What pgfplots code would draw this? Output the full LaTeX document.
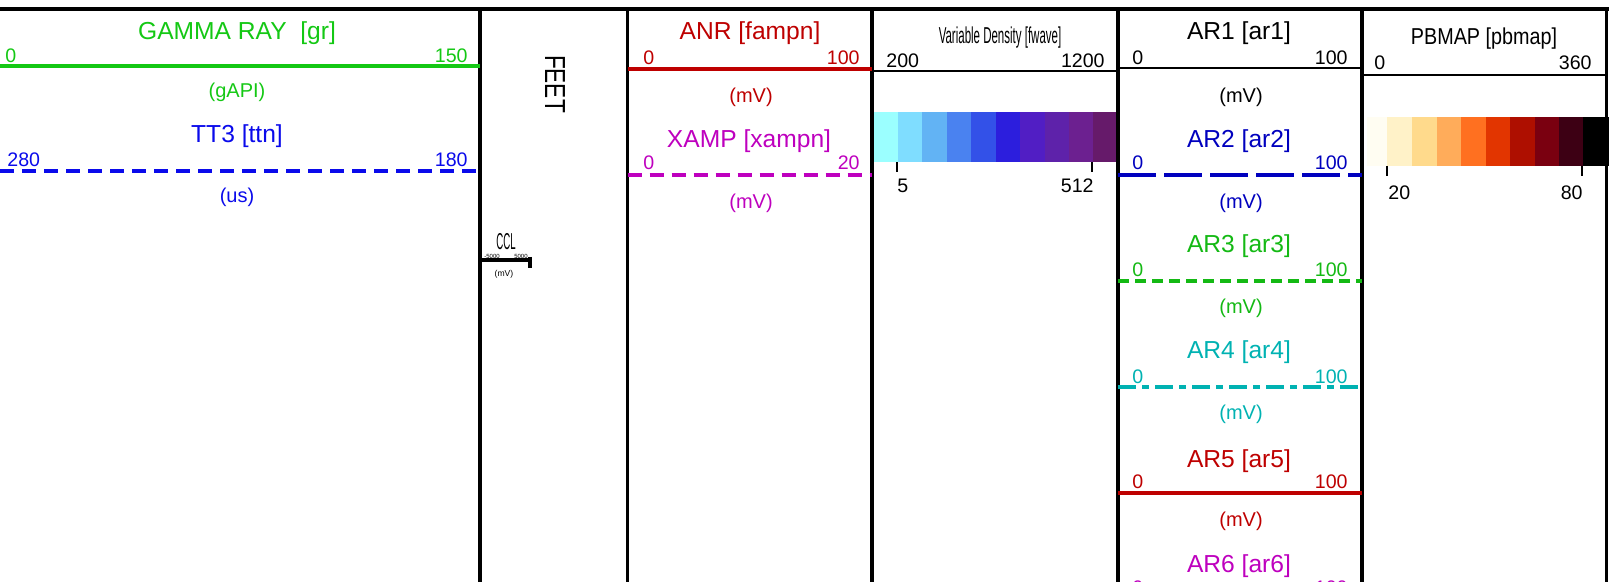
\documentclass[border=0pt]{standalone}
\usepackage{pgfplots}
\pgfplotsset{compat=1.18}
\usepackage{fontspec}
\setmainfont{Liberation Sans}
\usepackage{graphicx}
\newcommand\tf{\fontsize{12.3}{14}\selectfont}
\newcommand\nf{\fontsize{9.8}{12}\selectfont}
\newcommand\uf{\fontsize{10}{12}\selectfont}
\definecolor{cgr}{RGB}{20,200,20}
\definecolor{cbl}{RGB}{10,10,235}
\definecolor{cred}{RGB}{190,0,0}
\definecolor{cmag}{RGB}{190,0,190}
\definecolor{cdb}{RGB}{0,0,190}
\definecolor{cg3}{RGB}{20,185,20}
\definecolor{cteal}{RGB}{0,178,178}
% variable density colours
\definecolor{v1}{HTML}{9BFFFF}\definecolor{v2}{HTML}{7FDDFF}\definecolor{v3}{HTML}{62B3F4}
\definecolor{v4}{HTML}{4A82F0}\definecolor{v5}{HTML}{3351E8}\definecolor{v6}{HTML}{2C1EDD}
\definecolor{v7}{HTML}{511EC4}\definecolor{v8}{HTML}{5E22AA}\definecolor{v9}{HTML}{6C2090}
\definecolor{v10}{HTML}{661A6A}
% pbmap colours
\definecolor{p0}{HTML}{FFFDF2}\definecolor{p1}{HTML}{FFF2C8}\definecolor{p2}{HTML}{FFDA8C}
\definecolor{p3}{HTML}{FFAC5A}\definecolor{p4}{HTML}{FF7020}\definecolor{p5}{HTML}{E23500}
\definecolor{p6}{HTML}{AE0F00}\definecolor{p7}{HTML}{7A0010}\definecolor{p8}{HTML}{3D0014}
\definecolor{p9}{HTML}{000000}
\newcommand\vcell[3]{\addplot[fill=#3, draw=none, forget plot] coordinates {(#1,112) (#2,112) (#2,162) (#1,162)} -- cycle;}
\newcommand\pcell[3]{\addplot[fill=#3, draw=none, forget plot] coordinates {(#1,117) (#2,117) (#2,166) (#1,166)} -- cycle;}
\begin{document}
\begin{tikzpicture}
\begin{axis}[at={(0,0)}, anchor=south west, width=804.5pt, height=291pt, scale only axis,
  xmin=0, xmax=1609, ymin=0, ymax=582, y dir=reverse, hide axis, clip=false]
% colour bars
\vcell{873}{898}{v1}\vcell{898}{922}{v2}\vcell{922}{947}{v3}\vcell{947}{971}{v4}\vcell{971}{996}{v5}
\vcell{996}{1020}{v6}\vcell{1020}{1045}{v7}\vcell{1045}{1069}{v8}\vcell{1069}{1093}{v9}\vcell{1093}{1118}{v10}
\pcell{1367}{1387}{p0}\pcell{1387}{1412}{p1}\pcell{1412}{1437}{p2}\pcell{1437}{1461}{p3}\pcell{1461}{1486}{p4}
\pcell{1486}{1510}{p5}\pcell{1510}{1535}{p6}\pcell{1535}{1559}{p7}\pcell{1559}{1583}{p8}\pcell{1583}{1609}{p9}
% colour bar ticks
\addplot[black, line width=1pt] coordinates {(897,162) (897,172)};
\addplot[black, line width=1pt] coordinates {(1092,162) (1092,172)};
\addplot[black, line width=1pt] coordinates {(1387,166) (1387,176)};
\addplot[black, line width=1pt] coordinates {(1582,166) (1582,176)};
% frame
\addplot[black, line width=2pt] coordinates {(0,9) (1609,9)};
\addplot[black, line width=1.7pt] coordinates {(480,9) (480,582)};
\addplot[black, line width=1.7pt] coordinates {(627.5,9) (627.5,582)};
\addplot[black, line width=1.7pt] coordinates {(872,9) (872,582)};
\addplot[black, line width=1.7pt] coordinates {(1118,9) (1118,582)};
\addplot[black, line width=1.7pt] coordinates {(1362,9) (1362,582)};
\addplot[black, line width=1.7pt] coordinates {(1606.5,9) (1606.5,582)};
% track 1
\addplot[cgr, line width=1.6pt] coordinates {(0,66) (480,66)};
\addplot[cbl, line width=1.6pt, dash pattern=on 7pt off 4pt] coordinates {(0,171) (480,171)};
% ANR track
\addplot[cred, line width=1.6pt] coordinates {(627.5,69) (872,69)};
\addplot[cmag, line width=1.6pt, dash pattern=on 7pt off 4pt] coordinates {(627.5,175) (872,175)};
% VD track
\addplot[black, line width=1.1pt] coordinates {(872,71) (1118,71)};
% AR track
\addplot[black, line width=1.4pt] coordinates {(1118,68) (1362,68)};
\addplot[cdb, line width=1.6pt, dash pattern=on 19pt off 4pt] coordinates {(1118,175) (1362,175)};
\addplot[cg3, line width=1.6pt, dash pattern=on 5.5pt off 3pt] coordinates {(1118,281) (1362,281)};
\addplot[cteal, line width=1.6pt, dash pattern=on 9pt off 3pt on 3.5pt off 3pt] coordinates {(1118,387) (1362,387)};
\addplot[cred, line width=1.6pt] coordinates {(1118,493) (1362,493)};
% PBMAP track
\addplot[black, line width=1.1pt] coordinates {(1362,75) (1607,75)};
% CCL bar
\addplot[black, line width=1.8pt] coordinates {(480,260) (531,260)};
\addplot[black, line width=2pt] coordinates {(530,257) (530,268)};

% ---- texts ----
\tikzset{every node/.append style={inner sep=0pt}}
% Gamma track
\node[anchor=base, text=cgr, font=\tf] at (axis cs:237,40) {GAMMA RAY\ \ [gr]};
\node[anchor=base west, text=cgr, font=\nf] at (axis cs:5,62.5) {0};
\node[anchor=base east, text=cgr, font=\nf] at (axis cs:468,62.5) {150};
\node[anchor=base, text=cgr, font=\uf] at (axis cs:237,98) {(gAPI)};
\node[anchor=base, text=cbl, font=\tf] at (axis cs:237,143) {TT3 [ttn]};
\node[anchor=base west, text=cbl, font=\nf] at (axis cs:7,167) {280};
\node[anchor=base east, text=cbl, font=\nf] at (axis cs:468,167) {180};
\node[anchor=base, text=cbl, font=\uf] at (axis cs:237,203) {(us)};
% FEET track
\node[rotate=-90, font=\fontsize{14.5}{16}\selectfont] at (axis cs:555,84) {\scalebox{0.78}[1]{FEET}};
\node[anchor=base, font=\fontsize{11.5}{13}\selectfont] at (axis cs:506,250) {\scalebox{0.42}[1]{CCL}};
\node[anchor=base west, font=\fontsize{3}{3}\selectfont] at (axis cs:484,258.5) {-5000};
\node[anchor=base east, font=\fontsize{3}{3}\selectfont] at (axis cs:528,258.5) {5000};
\node[anchor=base, font=\fontsize{4.3}{5}\selectfont] at (axis cs:504,277) {(mV)};
% ANR track
\node[anchor=base, text=cred, font=\tf] at (axis cs:750,40) {ANR [fampn]};
\node[anchor=base west, text=cred, font=\nf] at (axis cs:643,64.5) {0};
\node[anchor=base east, text=cred, font=\nf] at (axis cs:860,64.5) {100};
\node[anchor=base, text=cred, font=\uf] at (axis cs:751,103) {(mV)};
\node[anchor=base, text=cmag, font=\tf] at (axis cs:749,148) {XAMP [xampn]};
\node[anchor=base west, text=cmag, font=\nf] at (axis cs:643,170) {0};
\node[anchor=base east, text=cmag, font=\nf] at (axis cs:860,170) {20};
\node[anchor=base, text=cmag, font=\uf] at (axis cs:751,209) {(mV)};
% VD track
\node[anchor=base, font=\fontsize{11.5}{13}\selectfont] at (axis cs:1000,44) {\scalebox{0.5}[1]{Variable Density [fwave]}};
\node[anchor=base west, font=\nf] at (axis cs:886,67.5) {200};
\node[anchor=base east, font=\nf] at (axis cs:1105,67.5) {1200};
\node[anchor=base west, font=\nf] at (axis cs:897,193) {5};
\node[anchor=base east, font=\nf] at (axis cs:1094,193) {512};
% AR track
\node[anchor=base, font=\tf] at (axis cs:1239,40) {AR1 [ar1]};
\node[anchor=base west, font=\nf] at (axis cs:1132,64.5) {0};
\node[anchor=base east, font=\nf] at (axis cs:1348,64.5) {100};
\node[anchor=base, font=\uf] at (axis cs:1241,103) {(mV)};
\node[anchor=base, text=cdb, font=\tf] at (axis cs:1239,148) {AR2 [ar2]};
\node[anchor=base west, text=cdb, font=\nf] at (axis cs:1132,170) {0};
\node[anchor=base east, text=cdb, font=\nf] at (axis cs:1348,170) {100};
\node[anchor=base, text=cdb, font=\uf] at (axis cs:1241,209) {(mV)};
\node[anchor=base, text=cg3, font=\tf] at (axis cs:1239,253) {AR3 [ar3]};
\node[anchor=base west, text=cg3, font=\nf] at (axis cs:1132,277) {0};
\node[anchor=base east, text=cg3, font=\nf] at (axis cs:1348,277) {100};
\node[anchor=base, text=cg3, font=\uf] at (axis cs:1241,314) {(mV)};
\node[anchor=base, text=cteal, font=\tf] at (axis cs:1239,358) {AR4 [ar4]};
\node[anchor=base west, text=cteal, font=\nf] at (axis cs:1132,383) {0};
\node[anchor=base east, text=cteal, font=\nf] at (axis cs:1348,383) {100};
\node[anchor=base, text=cteal, font=\uf] at (axis cs:1241,419) {(mV)};
\node[anchor=base, text=cred, font=\tf] at (axis cs:1239,467) {AR5 [ar5]};
\node[anchor=base west, text=cred, font=\nf] at (axis cs:1132,488) {0};
\node[anchor=base east, text=cred, font=\nf] at (axis cs:1348,488) {100};
\node[anchor=base, text=cred, font=\uf] at (axis cs:1241,526) {(mV)};
\node[anchor=base, text=cmag, font=\tf] at (axis cs:1239,572) {AR6 [ar6]};
\node[anchor=base west, text=cmag, font=\nf] at (axis cs:1132,594) {0};
\node[anchor=base east, text=cmag, font=\nf] at (axis cs:1348,594) {100};
% PBMAP track
\node[anchor=base, font=\fontsize{11.5}{13}\selectfont] at (axis cs:1484,45) {\scalebox{0.86}[1]{PBMAP [pbmap]}};
\node[anchor=base west, font=\nf] at (axis cs:1374,70) {0};
\node[anchor=base east, font=\nf] at (axis cs:1592,70) {360};
\node[anchor=base west, font=\nf] at (axis cs:1388,200) {20};
\node[anchor=base east, font=\nf] at (axis cs:1583,200) {80};
\end{axis}
\pgfresetboundingbox
\path[use as bounding box] (0,0) rectangle (804.5pt,291pt);
\end{tikzpicture}
\end{document}
